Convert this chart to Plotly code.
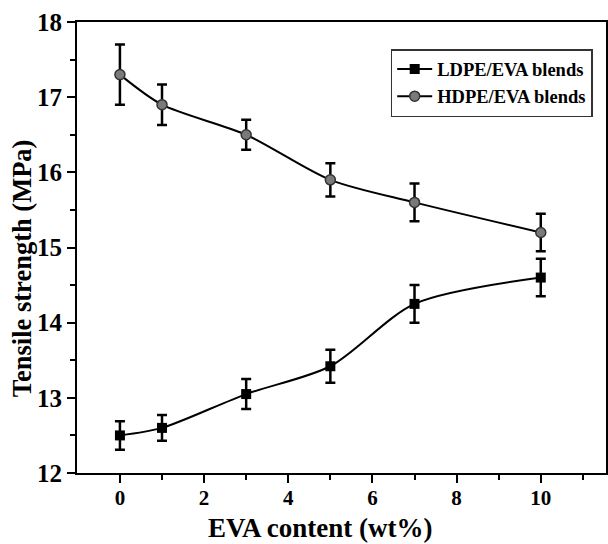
import plotly.graph_objects as go

eva = [0, 1, 3, 5, 7, 10]
ldpe = [12.5, 12.6, 13.05, 13.42, 14.25, 14.6]
ldpe_err = [0.19, 0.17, 0.2, 0.22, 0.25, 0.25]
hdpe = [17.3, 16.9, 16.5, 15.9, 15.6, 15.2]
hdpe_err = [0.4, 0.27, 0.2, 0.22, 0.25, 0.25]

font = "Liberation Serif"
fig = go.Figure()
fig.add_trace(go.Scatter(
    x=eva, y=ldpe, name="<b>LDPE/EVA blends</b>", mode="lines+markers",
    line=dict(color="black", width=2, shape="spline", smoothing=0.8),
    marker=dict(symbol="square", size=10, color="black"),
    error_y=dict(type="data", array=ldpe_err, color="black", thickness=2.5, width=5),
))
fig.add_trace(go.Scatter(
    x=eva, y=hdpe, name="<b>HDPE/EVA blends</b>", mode="lines+markers",
    line=dict(color="black", width=2, shape="spline", smoothing=0.8),
    marker=dict(symbol="circle", size=10, color="#7a7a7a", line=dict(color="#333", width=1.5)),
    error_y=dict(type="data", array=hdpe_err, color="black", thickness=2.5, width=5),
))
W, H = 608, 544
L, R, T, B = 77, 0, 22, 71
pw, ph = W - L - R, H - T - B
fig.update_layout(
    width=W, height=H,
    margin=dict(l=L, r=R, t=T, b=B),
    plot_bgcolor="white", paper_bgcolor="white",
    font=dict(family=font, color="#000", size=22),
    showlegend=True,
    legend=dict(x=0.593, y=0.94, xanchor="left", yanchor="top",
                bordercolor="#333", borderwidth=1.5, bgcolor="white",
                font=dict(size=18.5, family=font, color="#000"), tracegroupgap=0, itemwidth=35),
)
fig.add_annotation(text="<b>EVA content (wt%)</b>", xref="paper", yref="paper",
                   x=(321 - L) / pw, y=1 - (545 - T) / ph, showarrow=False,
                   xanchor="center", yanchor="bottom", font=dict(size=27, family=font, color="#000"))
fig.add_annotation(text="<b>Tensile strength (MPa)</b>", xref="paper", yref="paper",
                   x=(22 - L) / pw, y=1 - (268 - T) / ph, showarrow=False, textangle=-90,
                   xanchor="center", yanchor="middle", font=dict(size=26.5, family=font, color="#000"))
fig.update_xaxes(
    range=[-1.02, 11.55], tickvals=[0, 2, 4, 6, 8, 10],
    ticktext=["<b>%d</b>" % v for v in [0, 2, 4, 6, 8, 10]],
    tickfont=dict(size=21, color="#000", family=font), ticklabelstandoff=-3,
    ticks="outside", ticklen=8, tickwidth=2, tickcolor="black",
    minor=dict(tickvals=[1, 3, 5, 7, 9, 11], ticks="outside", ticklen=5, tickwidth=2, tickcolor="black"),
    showline=True, linecolor="black", linewidth=2, mirror=True,
    showgrid=False, zeroline=False,
)
yt = [12, 13, 14, 15, 16, 17, 18]
fig.update_yaxes(
    range=[12, 18], tickvals=yt, ticktext=["<b>%d</b>" % v for v in yt],
    tickfont=dict(size=25, color="#000", family=font),
    ticks="outside", ticklen=8, tickwidth=2, tickcolor="black",
    minor=dict(tickvals=[12.5, 13.5, 14.5, 15.5, 16.5, 17.5], ticks="outside", ticklen=5, tickwidth=2, tickcolor="black"),
    showline=True, linecolor="black", linewidth=2, mirror=True,
    showgrid=False, zeroline=False,
)
fig.write_html("out.html")
